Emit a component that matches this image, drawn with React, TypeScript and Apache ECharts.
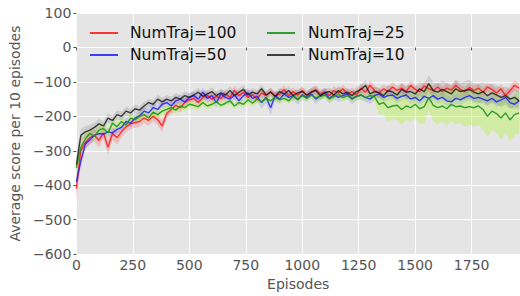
import React, { useEffect, useRef } from "react";
import * as echarts from "echarts";

const EPISODE_STEP = 20;

const red100 = [
  -410, -300, -275, -262, -255, -270, -248, -290, -250, -262,
  -245, -230, -222, -218, -215, -205, -212, -200, -210, -228,
  -192, -180, -168, -175, -160, -152, -148, -160, -145, -140,
  -150, -142, -148, -135, -145, -125, -140, -130, -145, -138,
  -150, -132, -140, -128, -142, -135, -122, -140, -128, -138,
  -125, -140, -130, -122, -135, -128, -140, -125, -132, -120,
  -135, -128, -138, -118, -130, -110, -125, -132, -120, -128,
  -115, -125, -118, -128, -110, -122, -128, -112, -120, -125,
  -115, -128, -118, -124, -110, -122, -128, -116, -125, -118,
  -130, -115, -122, -132, -120, -140, -125, -110, -118,
];
const red100Spread = [
  40, 25, 20, 18, 18, 20, 18, 22, 18, 20,
  17, 16, 15, 15, 15, 15, 15, 15, 16, 18,
  15, 14, 14, 14, 13, 12, 12, 13, 12, 12,
  12, 12, 12, 12, 12, 13, 12, 12, 12, 12,
  12, 12, 12, 12, 12, 12, 12, 12, 12, 12,
  12, 12, 12, 12, 12, 12, 12, 12, 12, 12,
  12, 12, 12, 13, 13, 15, 14, 13, 13, 13,
  14, 14, 13, 13, 14, 13, 13, 13, 13, 13,
  13, 13, 13, 13, 14, 13, 13, 13, 13, 13,
  13, 14, 13, 13, 14, 15, 14, 15, 14,
];

const blue50 = [
  -390, -330, -280, -268, -255, -250, -252, -245, -248, -238,
  -232, -215, -220, -205, -198, -185, -190, -175, -180, -165,
  -160, -170, -155, -150, -158, -145, -140, -150, -130, -148,
  -140, -160, -135, -145, -150, -138, -155, -140, -132, -148,
  -142, -160, -145, -175, -140, -150, -135, -145, -140, -152,
  -138, -145, -135, -150, -140, -132, -148, -138, -145, -140,
  -135, -150, -142, -138, -145, -150, -140, -135, -145, -140,
  -138, -148, -142, -138, -150, -145, -155, -142, -148, -140,
  -150, -145, -155, -158, -148, -152, -145, -140, -148, -145,
  -150, -155, -148, -158, -152, -145, -160, -165, -155,
];
const blue50Spread = [
  20, 16, 14, 14, 13, 13, 13, 12, 12, 12,
  12, 12, 12, 12, 12, 12, 12, 12, 12, 12,
  12, 13, 12, 12, 12, 12, 12, 13, 14, 13,
  13, 15, 14, 13, 14, 13, 16, 14, 14, 15,
  14, 18, 16, 22, 16, 15, 14, 14, 13, 14,
  13, 13, 13, 14, 13, 13, 14, 13, 13, 13,
  13, 14, 13, 13, 13, 14, 13, 13, 13, 13,
  13, 14, 13, 13, 14, 14, 15, 14, 14, 14,
  14, 14, 15, 15, 14, 15, 14, 14, 14, 14,
  14, 15, 14, 15, 15, 14, 16, 16, 15,
];

const green25 = [
  -350, -290, -265, -250, -258, -240, -235, -248, -220, -230,
  -215, -225, -205, -210, -200, -195, -205, -188, -195, -185,
  -180, -175, -182, -170, -175, -165, -168, -172, -160, -170,
  -165, -158, -168, -162, -155, -170, -160, -165, -152, -162,
  -150, -158, -148, -155, -145, -152, -148, -155, -142, -150,
  -140, -148, -138, -146, -142, -138, -150, -142, -136, -146,
  -140, -148, -143, -138, -146, -140, -143, -165, -160, -175,
  -170, -168, -180, -170, -175, -165, -178, -172, -145, -168,
  -175, -170, -178, -165, -172, -170, -175, -172, -175, -170,
  -180, -200, -185, -192, -205, -190, -210, -195, -190,
];
const green25Spread = [
  22, 18, 15, 14, 15, 14, 14, 14, 13, 13,
  13, 13, 12, 12, 12, 12, 12, 12, 12, 12,
  11, 11, 11, 11, 11, 10, 10, 10, 10, 10,
  10, 10, 10, 10, 10, 10, 10, 10, 10, 10,
  10, 10, 10, 10, 10, 10, 10, 10, 10, 10,
  10, 10, 10, 10, 10, 10, 11, 11, 11, 11,
  12, 12, 12, 12, 12, 12, 14, 30, 35, 40,
  38, 42, 45, 40, 42, 38, 45, 48, 40, 45,
  48, 45, 50, 48, 52, 50, 55, 52, 55, 55,
  58, 60, 55, 58, 62, 58, 62, 60, 60,
];

const black10 = [
  -340, -255, -245, -240, -232, -222, -228, -205, -212, -195,
  -200, -185, -190, -178, -182, -170, -160, -165, -150, -158,
  -150, -155, -145, -150, -140, -145, -138, -130, -142, -135,
  -128, -140, -132, -138, -125, -140, -130, -122, -138, -130,
  -135, -120, -138, -130, -142, -128, -135, -125, -140, -132,
  -128, -138, -130, -125, -140, -132, -128, -138, -125, -135,
  -130, -140, -128, -122, -110, -135, -128, -132, -140, -125,
  -130, -138, -122, -130, -128, -135, -120, -128, -105, -125,
  -130, -122, -128, -135, -120, -128, -125, -122, -130, -135,
  -128, -140, -132, -138, -145, -140, -150, -145, -155,
];
const black10Spread = [
  25, 18, 16, 15, 15, 14, 14, 14, 13, 13,
  13, 13, 13, 12, 12, 12, 12, 12, 12, 12,
  12, 12, 12, 12, 12, 12, 12, 12, 12, 12,
  12, 12, 12, 12, 12, 12, 12, 12, 12, 12,
  12, 12, 12, 12, 12, 12, 12, 12, 12, 12,
  12, 12, 12, 12, 12, 12, 12, 12, 12, 12,
  13, 13, 13, 14, 15, 14, 14, 15, 15, 16,
  17, 18, 18, 20, 20, 21, 22, 22, 24, 24,
  25, 25, 26, 26, 27, 26, 27, 28, 27, 28,
  28, 28, 27, 28, 28, 27, 28, 27, 26,
];

const seriesDefs = [
  { name: "NumTraj=100", values: red100, spread: red100Spread, line: "rgba(255,20,20,0.85)", band: "rgba(255,60,60,0.22)" },
  { name: "NumTraj=50", values: blue50, spread: blue50Spread, line: "rgba(20,20,255,0.8)", band: "rgba(60,60,255,0.16)" },
  { name: "NumTraj=25", values: green25, spread: green25Spread, line: "rgba(30,150,30,0.9)", band: "rgba(175,245,60,0.38)" },
  { name: "NumTraj=10", values: black10, spread: black10Spread, line: "rgba(20,20,20,0.8)", band: "rgba(60,60,60,0.15)" },
];

const Y_TICKS_MIN = -600;
const Y_TICKS_MAX = 100;
const X_MAX = 1964;

const FONT = "DejaVu Sans";

function fmtMinus(v: number) {
  return String(v).replace("-", "\u2212");
}

export default function App() {
  const ref = useRef<HTMLDivElement>(null);
  useEffect(() => {
    if (!ref.current) return;
    const chart = echarts.init(ref.current, undefined, { renderer: "svg" });
    const bandSeries: any[] = [];
    const lineSeries: any[] = [];
    seriesDefs.forEach((d) => {
      const xs = d.values.map((_, i) => i * EPISODE_STEP);
      const lo = d.values.map((v, i) => v - d.spread[i]);
      const hi = d.values.map((v, i) => v + d.spread[i]);
      bandSeries.push({
        type: "custom",
        name: d.name + " band",
        silent: true,
        z: 1,
        data: [[0, lo[0]]],
        renderItem: (_params: any, api: any) => {
          const pts: number[][] = [];
          for (let i = 0; i < xs.length; i++) pts.push(api.coord([xs[i], hi[i]]));
          for (let i = xs.length - 1; i >= 0; i--) pts.push(api.coord([xs[i], lo[i]]));
          return {
            type: "polygon",
            shape: { points: pts },
            style: { fill: d.band, stroke: "none" },
          };
        },
      });
      lineSeries.push({
        type: "line",
        name: d.name,
        data: d.values.map((v, i) => [xs[i], v]),
        symbol: "none",
        color: d.line,
        lineStyle: { color: d.line, width: 1.4 },
        z: 3,
      });
    });
    const legendCommon = {
      orient: "vertical",
      top: 25,
      padding: 0,
      itemWidth: 28,
      itemHeight: 2,
      itemGap: 6,
      icon: "rect",
      textStyle: {
        fontFamily: FONT,
        fontSize: 15.5,
        color: "#111",
        padding: [0, 0, 0, 7],
        lineHeight: 16,
      },
    };
    chart.setOption({
      animation: false,
      backgroundColor: "#ffffff",
      grid: {
        left: 73,
        right: 0,
        top: 13,
        bottom: 36,
        show: true,
        backgroundColor: "#E5E5E5",
        borderWidth: 0,
      },
      legend: [
        { ...legendCommon, left: 90, data: ["NumTraj=100", "NumTraj=50"] },
        { ...legendCommon, left: 267, textStyle: { ...legendCommon.textStyle, padding: [0, 0, 0, 8] }, data: ["NumTraj=25", "NumTraj=10"] },
      ],
      xAxis: {
        type: "value",
        min: 0,
        max: X_MAX,
        interval: 250,
        name: "Episodes",
        nameLocation: "middle",
        nameGap: 20,
        nameTextStyle: { fontFamily: FONT, fontSize: 14, color: "#555" },
        axisLine: { show: false },
        axisTick: { show: true, length: 3, lineStyle: { color: "#555" } },
        axisLabel: {
          fontFamily: FONT,
          fontSize: 14,
          color: "#555",
          margin: 4,
          showMaxLabel: false,
          formatter: (v: number) => fmtMinus(v),
        },
        splitLine: { show: true, lineStyle: { color: "#ffffff", width: 1 } },
      },
      yAxis: {
        type: "value",
        min: Y_TICKS_MIN,
        max: Y_TICKS_MAX,
        interval: 100,
        name: "Average score per 10 episodes",
        nameLocation: "middle",
        nameGap: 47,
        nameTextStyle: { fontFamily: FONT, fontSize: 14, color: "#555" },
        axisLine: { show: false },
        axisTick: { show: true, length: 3, lineStyle: { color: "#555" } },
        axisLabel: {
          fontFamily: FONT,
          fontSize: 14,
          color: "#555",
          margin: 5,
          formatter: (v: number) => fmtMinus(v),
        },
        splitLine: { show: true, lineStyle: { color: "#ffffff", width: 1 } },
      },
      series: [...bandSeries, ...lineSeries],
    });
    return () => chart.dispose();
  }, []);
  return <div ref={ref} style={{ width: 520, height: 296, position: "absolute", left: 0, top: 0 }} />;
}
